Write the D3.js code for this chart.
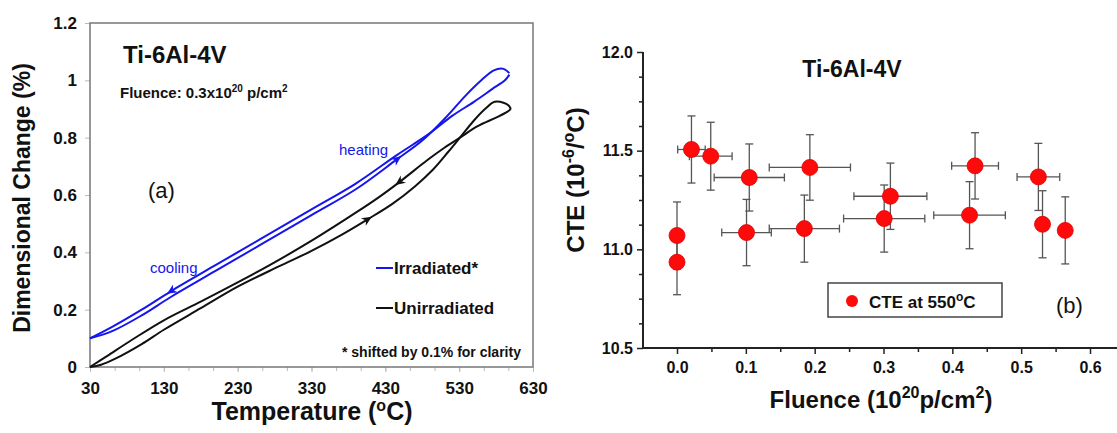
<!DOCTYPE html>
<html>
<head>
<meta charset="utf-8">
<script src="https://cdn.jsdelivr.net/npm/d3@7"></script>
<style>
  body { margin: 0; background: #fff; }
  svg text { font-family: "Liberation Sans", Arial, sans-serif; }
</style>
</head>
<body>
<div id="chart-area"></div>
<script>

// ---------- panel (a) data : dimensional change vs temperature ----------
const unirrHeatT = [30, 45, 65, 100, 130, 180, 230, 285, 330, 370, 406, 440, 470, 495, 515, 531, 550, 565, 578, 590, 597, 600];
const unirrHeatV = [0, 0.008, 0.03, 0.08, 0.13, 0.205, 0.28, 0.35, 0.405, 0.46, 0.515, 0.57, 0.63, 0.69, 0.75, 0.80, 0.86, 0.90, 0.925, 0.922, 0.912, 0.90];
const unirrCoolT = [600, 595, 580, 555, 531, 510, 487, 449, 420, 391, 333, 280, 230, 180, 130, 87, 53, 30];
const unirrCoolV = [0.90, 0.89, 0.87, 0.84, 0.80, 0.765, 0.722, 0.645, 0.59, 0.54, 0.445, 0.365, 0.295, 0.228, 0.163, 0.095, 0.038, 0];

const irrHeatT = [30, 60, 100, 140, 200, 260, 330, 390, 446, 480, 510, 540, 560, 577, 590, 598];
const irrHeatV = [0.10, 0.125, 0.18, 0.245, 0.335, 0.425, 0.53, 0.62, 0.725, 0.79, 0.865, 0.95, 1.00, 1.035, 1.04, 1.025];
const irrCoolT = [598, 592, 575, 550, 520, 490, 446, 390, 330, 260, 200, 140, 100, 60, 30];
const irrCoolV = [1.02, 1.00, 0.97, 0.925, 0.875, 0.815, 0.74, 0.64, 0.55, 0.445, 0.355, 0.265, 0.20, 0.14, 0.10];

const tempTicks = [30, 130, 230, 330, 430, 530, 630];
const dimTicks = [0, 0.2, 0.4, 0.6, 0.8, 1, 1.2];

// ---------- panel (b) data : CTE vs fluence ----------
const fluence    = [0, 0, 0.021, 0.049, 0.105, 0.101, 0.193, 0.185, 0.310, 0.301, 0.433, 0.425, 0.525, 0.531, 0.564];
const cte        = [11.07, 10.935, 11.506, 11.472, 11.364, 11.085, 11.415, 11.105, 11.269, 11.156, 11.423, 11.173, 11.367, 11.127, 11.096];
const cteErr     = [0.17, 0.165, 0.17, 0.172, 0.17, 0.168, 0.166, 0.17, 0.168, 0.17, 0.168, 0.17, 0.17, 0.17, 0.17];
const fluenceErr = [0, 0, 0.02, 0.031, 0.051, 0.036, 0.059, 0.051, 0.053, 0.059, 0.034, 0.052, 0.031, 0.004, 0];

const fluenceTicks = [0, 0.1, 0.2, 0.3, 0.4, 0.5, 0.6];
const cteTicks = [10.5, 11.0, 11.5, 12.0];

const svg = d3.select("#chart-area").append("svg")
    .attr("width", 1117)
    .attr("height", 433);

/********************************************/
// Panel (a) ________________________________/
/********************************************/

const xA = d3.scaleLinear().domain([30, 630]).range([90, 533]);
const yA = d3.scaleLinear().domain([0, 1.2]).range([367, 23]);

const ga = svg.append("g");

// minor ticks on bottom
const xMinorA = d3.axisBottom(xA)
    .tickValues(d3.range(30, 631, 100 / 3))
    .tickSize(4).tickFormat("");
ga.append("g").attr("transform", "translate(0,367)").call(xMinorA)
    .call(g => g.select(".domain").remove())
    .selectAll("line").attr("stroke", "#bbb");

const xAxisA = d3.axisBottom(xA).tickValues(tempTicks).tickSize(5).tickPadding(10)
    .tickFormat(d3.format("d"));
ga.append("g").attr("transform", "translate(0,367)").call(xAxisA)
    .call(g => g.select(".domain").remove())
    .call(g => g.selectAll("line").attr("stroke", "#bbb"))
    .selectAll("text").attr("fill", "#111").attr("font-size", 17).attr("font-weight", "bold");

const yAxisA = d3.axisLeft(yA).tickValues(dimTicks).tickSize(5).tickPadding(8)
    .tickFormat(d => d3.format("")(+d.toFixed(1)));
ga.append("g").attr("transform", "translate(90,0)").call(yAxisA)
    .call(g => g.select(".domain").remove())
    .call(g => g.selectAll("line").attr("stroke", "#bbb"))
    .selectAll("text").attr("fill", "#111").attr("font-size", 17).attr("font-weight", "bold");

// plot frame
ga.append("rect")
    .attr("x", 90).attr("y", 23)
    .attr("width", 443).attr("height", 344)
    .attr("fill", "none").attr("stroke", "#777").attr("stroke-width", 1.5);

const lineA = d3.line()
    .x(d => xA(d[0]))
    .y(d => yA(d[1]))
    .curve(d3.curveCatmullRom);

const series = [
    { T: unirrHeatT, V: unirrHeatV, color: "#111" },
    { T: unirrCoolT, V: unirrCoolV, color: "#111" },
    { T: irrHeatT, V: irrHeatV, color: "#1515f0" },
    { T: irrCoolT, V: irrCoolV, color: "#1515f0" }
];

series.forEach(s => {
    ga.append("path")
        .attr("d", lineA(d3.zip(s.T, s.V)))
        .attr("fill", "none")
        .attr("stroke", s.color)
        .attr("stroke-width", 2);
});

// arrowheads on curves: series index and temperature where arrow sits
const arrowSeries = [0, 1, 2, 3];
const arrowTemps = [406, 449, 446, 140];

function valueAt(s, t) {
    for (let i = 0; i < s.T.length - 1; i++) {
        const a = s.T[i], b = s.T[i + 1];
        if ((t - a) * (t - b) <= 0) {
            const f = (t - a) / (b - a);
            return s.V[i] + f * (s.V[i + 1] - s.V[i]);
        }
    }
    return s.V[0];
}

arrowSeries.forEach((si, k) => {
    const s = series[si];
    const t = arrowTemps[k];
    const dir = s.T[0] < s.T[s.T.length - 1] ? 1 : -1;
    const x0 = xA(t), y0 = yA(valueAt(s, t));
    const x1 = xA(t + dir * 6), y1 = yA(valueAt(s, t + dir * 6));
    const ang = Math.atan2(y1 - y0, x1 - x0) * 180 / Math.PI;
    ga.append("path")
        .attr("d", "M5,0 L-5,-4.5 L-2,0 L-5,4.5 Z")
        .attr("transform", "translate(" + x0 + "," + y0 + ") rotate(" + ang + ")")
        .attr("fill", s.color);
});

// texts
ga.append("text").attr("x", 123).attr("y", 63)
    .attr("font-size", 24).attr("font-weight", "bold").attr("fill", "#111")
    .text("Ti-6Al-4V");

const flu = ga.append("text").attr("x", 120).attr("y", 98)
    .attr("font-size", 15).attr("font-weight", "bold").attr("fill", "#111");
flu.append("tspan").text("Fluence: 0.3x10");
flu.append("tspan").attr("font-size", 10).attr("dy", -6).text("20");
flu.append("tspan").attr("dy", 6).text(" p/cm");
flu.append("tspan").attr("font-size", 10).attr("dy", -6).text("2");

ga.append("text").attr("x", 148).attr("y", 198)
    .attr("font-size", 22).attr("fill", "#111").text("(a)");

ga.append("text").attr("x", 339).attr("y", 155)
    .attr("font-size", 15).attr("fill", "#1515f0").text("heating");
ga.append("text").attr("x", 150).attr("y", 273)
    .attr("font-size", 15).attr("fill", "#1515f0").text("cooling");

// legend (a)
const legA = [
    { label: "Irradiated*", color: "#1515f0", y: 268 },
    { label: "Unirradiated", color: "#111", y: 308 }
];
legA.forEach(l => {
    ga.append("line").attr("x1", 376).attr("x2", 393).attr("y1", l.y).attr("y2", l.y)
        .attr("stroke", l.color).attr("stroke-width", 2);
    ga.append("text").attr("x", 394).attr("y", l.y + 6)
        .attr("font-size", 17).attr("font-weight", "bold").attr("fill", "#111")
        .text(l.label);
});

ga.append("text").attr("x", 342).attr("y", 357)
    .attr("font-size", 14).attr("font-weight", "bold").attr("fill", "#111")
    .text("* shifted by 0.1% for clarity");

// axis titles
const xtA = ga.append("text").attr("x", 312).attr("y", 420)
    .attr("text-anchor", "middle").attr("font-size", 25).attr("font-weight", "bold").attr("fill", "#111");
xtA.append("tspan").text("Temperature (");
xtA.append("tspan").attr("font-size", 16).attr("dy", -9).text("o");
xtA.append("tspan").attr("dy", 9).text("C)");

ga.append("text")
    .attr("transform", "translate(30,198) rotate(-90)")
    .attr("text-anchor", "middle").attr("font-size", 23).attr("font-weight", "bold").attr("fill", "#111")
    .text("Dimensional Change (%)");

/********************************************/
// Panel (b) ________________________________/
/********************************************/

const xB = d3.scaleLinear().domain([-0.0494, 0.6392]).range([643, 1117]);
const yB = d3.scaleLinear().domain([10.5, 12]).range([348, 52]);

const gb = svg.append("g");

const xMinorB = d3.axisBottom(xB).tickValues([0.05, 0.15, 0.25, 0.35, 0.45, 0.55])
    .tickSize(4).tickFormat("");
gb.append("g").attr("transform", "translate(0,348)").call(xMinorB)
    .call(g => g.select(".domain").remove())
    .selectAll("line").attr("stroke", "#222").attr("stroke-width", 1.5);

const xAxisB = d3.axisBottom(xB).tickValues(fluenceTicks).tickSize(6).tickPadding(8)
    .tickFormat(d3.format(".1f"));
gb.append("g").attr("transform", "translate(0,348)").call(xAxisB)
    .call(g => g.select(".domain").attr("d", "M643,0H1117").attr("stroke", "#222").attr("stroke-width", 2))
    .call(g => g.selectAll("line").attr("stroke", "#222").attr("stroke-width", 1.5))
    .selectAll("text").attr("fill", "#111").attr("font-size", 16).attr("font-weight", "bold");

const yMinorB = d3.axisLeft(yB).tickValues([10.625, 10.75, 10.875, 11.125, 11.25, 11.375, 11.625, 11.75, 11.875])
    .tickSize(4).tickFormat("");
gb.append("g").attr("transform", "translate(643,0)").call(yMinorB)
    .call(g => g.select(".domain").remove())
    .selectAll("line").attr("stroke", "#222").attr("stroke-width", 1.5);

const yAxisB = d3.axisLeft(yB).tickValues(cteTicks).tickSize(6).tickPadding(4)
    .tickFormat(d3.format(".1f"));
gb.append("g").attr("transform", "translate(643,0)").call(yAxisB)
    .call(g => g.select(".domain").attr("d", "M0,348V52").attr("stroke", "#222").attr("stroke-width", 2))
    .call(g => g.selectAll("line").attr("stroke", "#222").attr("stroke-width", 1.5))
    .selectAll("text").attr("fill", "#111").attr("font-size", 16).attr("font-weight", "bold");

// error bars
const pts = d3.range(fluence.length).map(i => ({
    x: fluence[i], y: cte[i], ey: cteErr[i], ex: fluenceErr[i]
}));

const eb = gb.append("g").attr("stroke", "#555").attr("stroke-width", 1.3).attr("fill", "none");
pts.forEach(p => {
    const cx = xB(p.x), cy = yB(p.y);
    const y1 = yB(p.y + p.ey), y2 = yB(p.y - p.ey);
    eb.append("line").attr("x1", cx).attr("x2", cx).attr("y1", y1).attr("y2", y2);
    eb.append("line").attr("x1", cx - 4).attr("x2", cx + 4).attr("y1", y1).attr("y2", y1);
    eb.append("line").attr("x1", cx - 4).attr("x2", cx + 4).attr("y1", y2).attr("y2", y2);
    if (p.ex > 0) {
        const x1 = xB(p.x - p.ex), x2 = xB(p.x + p.ex);
        eb.append("line").attr("x1", x1).attr("x2", x2).attr("y1", cy).attr("y2", cy);
        eb.append("line").attr("x1", x1).attr("x2", x1).attr("y1", cy - 4).attr("y2", cy + 4);
        eb.append("line").attr("x1", x2).attr("x2", x2).attr("y1", cy - 4).attr("y2", cy + 4);
    }
});

gb.selectAll("circle.pt").data(pts).enter().append("circle")
    .attr("class", "pt")
    .attr("cx", d => xB(d.x))
    .attr("cy", d => yB(d.y))
    .attr("r", 8)
    .attr("fill", "#ff0a0a")
    .attr("stroke", "#d00")
    .attr("stroke-width", 0.8);

// title and label
gb.append("text").attr("x", 852).attr("y", 77).attr("text-anchor", "middle")
    .attr("font-size", 23).attr("font-weight", "bold").attr("fill", "#111").text("Ti-6Al-4V");

gb.append("text").attr("x", 1056).attr("y", 313)
    .attr("font-size", 22).attr("fill", "#111").text("(b)");

// legend (b)
gb.append("rect").attr("x", 828).attr("y", 283).attr("width", 174).attr("height", 34)
    .attr("fill", "#fff").attr("stroke", "#444").attr("stroke-width", 1.5);
gb.append("circle").attr("cx", 852).attr("cy", 301).attr("r", 6).attr("fill", "#ff0a0a");
const lt = gb.append("text").attr("x", 869).attr("y", 308)
    .attr("font-size", 17).attr("font-weight", "bold").attr("fill", "#111");
lt.append("tspan").text("CTE at 550");
lt.append("tspan").attr("font-size", 12).attr("dy", -7).text("o");
lt.append("tspan").attr("dy", 7).text("C");

// axis titles
const xtB = gb.append("text").attr("x", 881).attr("y", 408).attr("text-anchor", "middle")
    .attr("font-size", 24).attr("font-weight", "bold").attr("fill", "#111");
xtB.append("tspan").text("Fluence (10");
xtB.append("tspan").attr("font-size", 16).attr("dy", -10).text("20");
xtB.append("tspan").attr("dy", 10).text("p/cm");
xtB.append("tspan").attr("font-size", 16).attr("dy", -10).text("2");
xtB.append("tspan").attr("dy", 10).text(")");

const ytB = gb.append("text").attr("transform", "translate(584,180) rotate(-90)")
    .attr("text-anchor", "middle").attr("font-size", 24).attr("font-weight", "bold").attr("fill", "#111");
ytB.append("tspan").text("CTE (10");
ytB.append("tspan").attr("font-size", 16).attr("dy", -10).text("-6");
ytB.append("tspan").attr("dy", 10).text("/");
ytB.append("tspan").attr("font-size", 16).attr("dy", -10).text("o");
ytB.append("tspan").attr("dy", 10).text("C)");

</script>
</body>
</html>
